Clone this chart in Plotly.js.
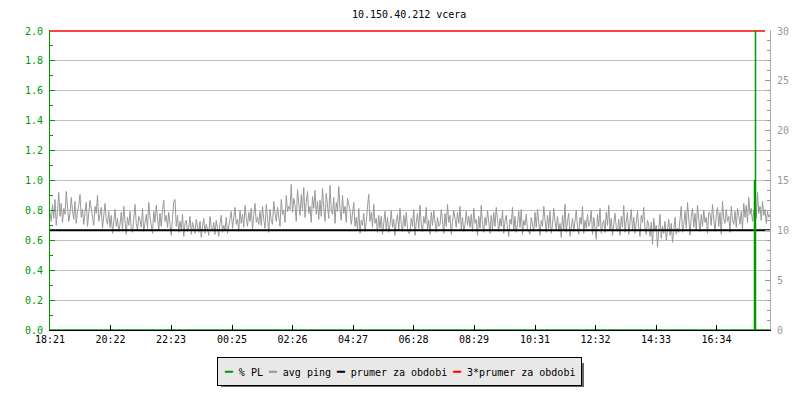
<!DOCTYPE html>
<html>
<head>
<meta charset="utf-8">
<script src="https://cdn.plot.ly/plotly-3.0.1.min.js"></script>
<style>html,body{margin:0;padding:0;background:#fff;}#chart{width:800px;height:400px;}</style>
</head>
<body>
<div id="chart"></div>
<script>
// x tick labels (minutes from start 18:21)
const tickMinutes = [0, 121, 242, 364, 485, 606, 727, 848, 970, 1091, 1212, 1333];
const tickLabels = ["18:21", "20:22", "22:23", "00:25", "02:26", "04:27", "06:28", "08:29", "10:31", "12:32", "14:33", "16:34"];

// avg ping [ms], one value every 2.5 minutes (right axis)
const avgPing = [
  11.8, 10.9, 12.6, 11.2, 13.1, 10.5, 12.0, 13.8, 11.4, 12.7, 10.8, 12.2, 11.6, 13.9, 12.4, 10.9, 11.7, 13.3, 12.0, 11.1, 12.9, 10.7, 11.9, 12.5,
  13.6, 11.3, 12.1, 10.6, 11.8, 12.8, 10.4, 11.5, 13.0, 12.2, 11.0, 10.5, 12.4, 11.7, 13.5, 10.9, 11.6, 12.3, 10.2, 11.4, 12.7, 11.1, 10.6, 11.9,
  10.3, 11.5, 9.7, 10.8, 12.1, 10.4, 11.2, 9.9, 10.6, 11.8, 10.1, 12.4, 10.9, 9.6, 11.3, 10.5, 11.9, 10.2, 9.8, 11.1, 12.6, 10.7, 10.0, 11.4,
  11.0, 10.3, 12.2, 9.9, 10.7, 11.6, 10.2, 12.8, 11.3, 10.5, 9.7, 11.9, 10.8, 12.5, 11.1, 10.0, 11.7, 10.4, 12.1, 13.0, 10.9, 11.5, 10.3, 11.8,
  10.6, 9.5, 11.2, 12.9, 13.1, 10.4, 11.5, 9.8, 10.9, 10.1, 11.6, 9.4, 10.7, 11.0, 9.9, 10.3, 11.4, 9.6, 10.8, 10.2, 9.7, 11.1, 10.5, 9.8,
  10.9, 9.3, 10.4, 11.2, 9.7, 10.6, 10.1, 9.5, 11.4, 10.3, 9.9, 10.8, 9.6, 11.0, 10.2, 9.4, 10.7, 11.5, 9.8, 10.5, 10.0, 11.3, 9.7, 10.4,
  10.8, 11.9, 10.2, 11.4, 12.3, 10.6, 11.1, 9.9, 12.0, 10.7, 11.6, 10.3, 12.5, 11.2, 10.4, 11.8, 10.9, 12.2, 10.1, 11.5, 12.7, 10.8, 11.3, 10.6,
  11.9, 10.5, 12.4, 11.1, 10.2, 12.6, 11.4, 9.8, 12.1, 11.0, 10.6, 12.9, 11.7, 10.9, 12.3, 11.2, 10.4, 13.1, 11.6, 12.0, 10.8, 13.5, 11.9, 12.4,
  12.1, 14.6, 11.8, 13.2, 12.5, 10.9, 14.1, 12.7, 11.5, 13.6, 12.0, 14.3, 11.3, 12.8, 13.9, 11.7, 12.4, 10.8, 13.4, 12.2, 14.0, 11.6, 12.9, 11.1,
  13.0, 11.4, 14.2, 12.3, 10.9, 13.7, 12.6, 11.2, 14.5, 12.0, 11.6, 13.3, 10.7, 12.8, 11.9, 14.4, 12.1, 11.0, 13.5, 11.7, 12.4, 10.8, 13.2, 12.5,
  12.0, 10.6, 11.9, 12.8, 10.4, 11.3, 10.1, 12.2, 9.7, 11.0, 10.5, 11.7, 9.9, 10.8, 12.4, 13.6, 10.9, 11.8, 10.3, 12.6, 10.7, 11.2, 9.8, 11.5,
  10.2, 11.4, 9.6, 10.7, 11.9, 10.1, 11.3, 9.8, 10.5, 12.0, 10.3, 11.1, 9.5, 10.9, 11.6, 10.0, 12.2, 10.6, 9.9, 11.5, 10.4, 11.8, 10.2, 9.7,
  9.8, 11.2, 10.4, 12.1, 9.5, 10.8, 11.7, 10.2, 12.5, 10.6, 9.9, 11.4, 10.7, 12.3, 10.1, 11.0, 9.6, 11.8, 10.5, 12.0, 10.9, 9.8, 11.3, 10.4,
  10.6, 12.1, 11.0, 9.7, 11.7, 10.4, 12.6, 10.8, 11.5, 9.6, 10.9, 12.0, 11.2, 10.3, 11.8, 10.7, 12.4, 10.1, 11.3, 9.9, 10.6, 11.9, 10.5, 11.4,
  10.3, 11.6, 9.9, 12.2, 10.7, 11.1, 9.5, 11.4, 10.2, 12.5, 10.6, 9.8, 11.3, 10.5, 12.0, 10.9, 9.7, 11.5, 10.1, 11.8, 10.4, 12.3, 10.8, 9.9,
  11.2, 10.4, 12.0, 9.7, 10.9, 11.5, 10.2, 9.4, 11.1, 10.6, 12.3, 10.0, 11.4, 9.8, 10.7, 11.9, 10.3, 12.1, 9.6, 11.0, 10.5, 11.6, 10.1, 9.9,
  9.6, 11.3, 10.5, 9.9, 11.8, 10.3, 12.1, 10.8, 9.5, 11.0, 10.4, 12.4, 10.7, 9.8, 11.5, 10.2, 11.9, 9.7, 10.6, 12.2, 10.9, 10.1, 11.4, 9.9,
  10.7, 9.3, 11.5, 10.1, 12.6, 9.8, 10.9, 11.7, 9.4, 10.5, 11.2, 9.9, 10.8, 12.0, 10.3, 9.6, 11.3, 10.6, 12.4, 9.7, 11.0, 10.2, 11.6, 10.4,
  10.8, 12.0, 9.6, 11.3, 10.2, 9.1, 11.6, 10.4, 12.2, 9.7, 10.6, 11.0, 9.8, 11.8, 10.5, 12.5, 10.0, 11.2, 9.5, 10.9, 11.7, 10.3, 9.9, 11.1,
  9.5, 11.4, 10.3, 12.5, 9.8, 10.9, 11.8, 9.6, 10.7, 12.1, 10.0, 11.3, 9.7, 10.6, 11.9, 10.2, 9.4, 11.5, 10.8, 12.3, 10.1, 9.6, 11.0, 10.5,
  9.4, 10.8, 8.6, 11.2, 9.9, 10.5, 8.3, 10.1, 11.6, 9.2, 10.4, 9.7, 10.9, 9.0, 10.3, 11.1, 9.5, 10.7, 8.8, 10.0, 11.3, 9.6, 10.2, 9.8,
  11.0, 12.4, 9.8, 10.6, 11.9, 10.2, 12.8, 10.9, 9.5, 11.4, 12.2, 10.3, 11.7, 10.0, 12.5, 11.1, 9.9, 11.6, 10.4, 12.0, 10.8, 11.3, 9.7, 11.8,
  11.7, 10.5, 12.6, 11.1, 9.9, 11.5, 12.3, 10.4, 11.8, 9.6, 12.9, 11.2, 10.7, 12.1, 10.9, 11.4, 9.8, 12.4, 11.0, 10.6, 11.9, 10.3, 12.2, 11.5,
  10.6, 11.9, 10.1, 12.7, 11.3, 12.5, 10.8, 13.3, 11.6, 12.2, 10.9, 11.8, 12.6, 11.2, 13.8, 11.7, 12.4, 11.0, 12.9, 11.5, 12.1, 10.7, 11.9, 11.3,
  11.6
];
const pingStep = 2.5;

// period averages
const prumer = 10.0;
const prumer3 = 30.0;

// packet loss [%] (left axis)
const plMinutes = [0, 1409, 1409, 1411, 1411, 1411, 1440];
const plValues  = [0, 0, 1.0, 1.0, 40, 0, 0];

const seriesNames = ["% PL", "avg ping", "prumer za obdobi", "3*prumer za obdobi"];
const seriesColors = ["#009900", "#999999", "#000000", "#ff0000"];

const pingX = avgPing.map((_, i) => i * pingStep);
const FONT = "DejaVu Sans Mono, monospace";

const traces = [
  {x: pingX, y: avgPing, yaxis: "y", type: "scatter", mode: "lines",
   line: {color: seriesColors[1], width: 1}, name: seriesNames[1], hoverinfo: "skip"},
  {x: [0, 1440], y: [prumer, prumer], yaxis: "y", type: "scatter", mode: "lines",
   line: {color: seriesColors[2], width: 2}, name: seriesNames[2]},
  {x: [0, 1430], y: [prumer3, prumer3], yaxis: "y", type: "scatter", mode: "lines",
   line: {color: seriesColors[3], width: 1.5}, name: seriesNames[3]},
  {x: plMinutes, y: plValues, yaxis: "y2", type: "scatter", mode: "lines",
   line: {color: seriesColors[0], width: 1.5}, name: seriesNames[0]}
];

const legendText = seriesNames.map((n, i) =>
  '<span style="color:' + seriesColors[i] + ';font-size:13px">━</span> ' + n).join(' ');

const layout = {
  width: 800, height: 400,
  margin: {l: 50, r: 30, t: 30, b: 70, pad: 0},
  paper_bgcolor: "#ffffff", plot_bgcolor: "#ffffff",
  showlegend: false,
  font: {family: FONT, size: 10, color: "#000"},
  title: {text: "10.150.40.212 vcera", x: 0.5115, xanchor: "center", y: 0.965, yanchor: "middle",
          font: {family: FONT, size: 10, color: "#000"}},
  xaxis: {
    range: [0, 1440], tickmode: "array", tickvals: tickMinutes, ticktext: tickLabels,
    ticks: "inside", ticklen: 5, tickcolor: "#000", showline: true, linecolor: "#000", linewidth: 1,
    showgrid: false, zeroline: false, tickfont: {family: FONT, size: 10, color: "#000"},
    anchor: "y", layer: "above traces"
  },
  yaxis: {
    side: "right", range: [0, 30.1], dtick: 5, tick0: 0,
    ticks: "inside", ticklen: 5, tickcolor: "#999", showline: true, linecolor: "#aaa", linewidth: 1,
    minor: {dtick: 1, ticks: "inside", ticklen: 3, tickcolor: "#999", showgrid: false},
    showgrid: false, zeroline: false, tickfont: {family: FONT, size: 10, color: "#999"},
    ticklabelstandoff: 4
  },
  yaxis2: {
    overlaying: "y", side: "left", anchor: "x", range: [0, 30.1 / 15], dtick: 0.2, tick0: 0, tickformat: ".1f",
    ticks: "inside", ticklen: 5, tickcolor: "#009900", showline: true, linecolor: "#009900", linewidth: 1,
    minor: {dtick: 0.1, ticks: "inside", ticklen: 3, tickcolor: "#009900", showgrid: false},
    showgrid: true, gridcolor: "#c0c0c0", gridwidth: 1, zeroline: false,
    tickfont: {family: FONT, size: 10, color: "#009900"}, ticklabelstandoff: 4
  },
  shapes: [
    {type: "rect", xref: "paper", yref: "paper", layer: "below",
     x0: (221 - 50) / 720, x1: (584 - 50) / 720, y0: (330 - 387) / 300, y1: (330 - 363) / 300,
     fillcolor: "#666666", line: {width: 0}}
  ],
  annotations: [
    {xref: "paper", yref: "paper", x: (399 - 50) / 720, y: (330 - 371) / 300,
     xanchor: "center", yanchor: "middle", showarrow: false, text: legendText,
     font: {family: FONT, size: 10, color: "#000"}, bgcolor: "#e8e8e8",
     bordercolor: "#000", borderwidth: 1, borderpad: 6}
  ]
};

Plotly.newPlot("chart", traces, layout, {staticPlot: true, displayModeBar: false});
</script>
</body>
</html>
